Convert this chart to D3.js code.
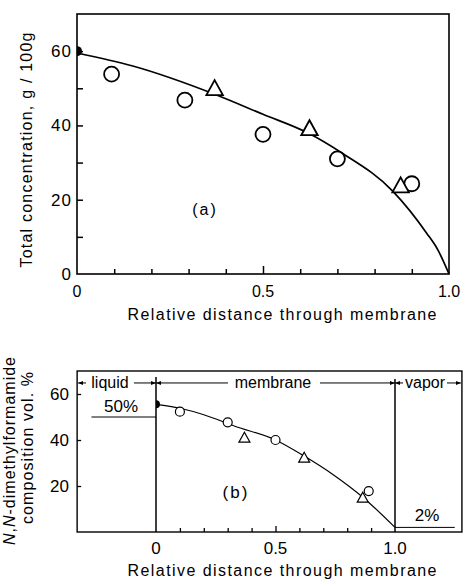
<!DOCTYPE html>
<html>
<head>
<meta charset="utf-8">
<script src="https://cdn.jsdelivr.net/npm/d3@7"></script>
<style>
  body { margin: 0; background: #fff; }
  svg text { font-family: "Liberation Sans", Arial, sans-serif; fill: #000; }
</style>
</head>
<body>
<script>
// ---- data ----
// (a) total concentration
const aCircleX = [0.093, 0.29, 0.50, 0.70, 0.90];
const aCircleY = [53.8, 46.8, 37.6, 31.0, 24.3];
const aTriX = [0.37, 0.625, 0.87];
const aTriY = [49.7, 38.9, 23.5];
const aCurveX = [0, 0.15, 0.37, 0.5, 0.62, 0.71, 0.85, 0.94, 0.97, 1.0];
const aCurveY = [59.5, 56, 48.4, 43, 38, 32.7, 22.2, 11, 6.5, 0];
const aStart = [0, 60];

// (b) N,N-dimethylformamide composition
const bCircleX = [0.10, 0.30, 0.50, 0.89];
const bCircleY = [52.3, 47.7, 40.0, 17.8];
const bTriX = [0.37, 0.62, 0.865];
const bTriY = [40.7, 32.0, 14.6];
const bCurveX = [0, 0.1, 0.2, 0.33, 0.5, 0.62, 0.74, 0.87, 1.0];
const bCurveY = [55.5, 53.8, 51, 46, 40, 33, 25, 14.7, 2];
const bStart = [0, 55.5];

const xTickLabels = ["0", "0.5", "1.0"];
const xTickLabelVals = [0, 0.5, 1.0];
const aYLabels = [0, 20, 40, 60];
const bYLabels = [20, 40, 60];

const w = 466, h = 579;

const svg = d3.select("body").append("svg")
  .attr("width", w).attr("height", h);

const defs = svg.append("defs");
defs.append("marker")
  .attr("id", "arr")
  .attr("viewBox", "0 0 10 10")
  .attr("refX", 10).attr("refY", 5)
  .attr("markerWidth", 5).attr("markerHeight", 5)
  .attr("markerUnits", "userSpaceOnUse")
  .attr("orient", "auto-start-reverse")
  .append("path").attr("d", "M0,1 L10,5 L0,9 Z").attr("fill", "#000");

const zip = (xs, ys) => xs.map((x, i) => [x, ys[i]]);
const tri = s => `M0,${-s * 0.62}L${s * 0.55},${s * 0.38}L${-s * 0.55},${s * 0.38}Z`;

// ================= panel (a) =================
const xA = d3.scaleLinear().domain([0, 1]).range([77, 449]);
const yA = d3.scaleLinear().domain([0, 70]).range([274, 14]);

const gA = svg.append("g");

gA.append("rect")
  .attr("x", xA(0)).attr("y", yA(70))
  .attr("width", xA(1) - xA(0)).attr("height", yA(0) - yA(70))
  .attr("fill", "none").attr("stroke", "#000").attr("stroke-width", 1.6);

const xAxisA = d3.axisBottom(xA)
  .tickValues(d3.range(1, 10).map(d => d / 10))
  .tickSize(-5).tickFormat("");
gA.append("g").attr("transform", `translate(0,${yA(0)})`).call(xAxisA)
  .call(g => g.select(".domain").remove())
  .call(g => g.selectAll(".tick line").attr("stroke-width", 1.5)
    .attr("y2", d => Math.abs(d - 0.5) < 1e-6 ? -8 : -5));

const yAxisA = d3.axisLeft(yA)
  .tickValues([10, 20, 30, 40, 50, 60])
  .tickSize(-6).tickFormat("");
gA.append("g").attr("transform", `translate(${xA(0)},0)`).call(yAxisA)
  .call(g => g.select(".domain").remove())
  .call(g => g.selectAll(".tick line").attr("stroke-width", 1.5));

gA.selectAll(".xlab").data(xTickLabelVals).enter().append("text")
  .attr("x", d => xA(d)).attr("y", 297)
  .attr("text-anchor", "middle").attr("font-size", 16)
  .text((d, i) => xTickLabels[i]);

gA.selectAll(".ylab").data(aYLabels).enter().append("text")
  .attr("x", 72).attr("y", d => yA(d) + 6)
  .attr("text-anchor", "end").attr("font-size", 17)
  .attr("letter-spacing", 1)
  .text(d => d);

gA.append("text")
  .attr("x", 282).attr("y", 320)
  .attr("text-anchor", "middle").attr("font-size", 16)
  .attr("textLength", 309).attr("lengthAdjust", "spacing")
  .text("Relative distance through membrane");

gA.append("text")
  .attr("transform", `translate(32,${150}) rotate(-90)`)
  .attr("text-anchor", "middle").attr("font-size", 16)
  .attr("textLength", 235).attr("lengthAdjust", "spacing")
  .text("Total concentration, g / 100g");

gA.append("text")
  .attr("x", 205).attr("y", 215)
  .attr("text-anchor", "middle").attr("font-size", 16)
  .attr("letter-spacing", 2)
  .text("(a)");

const line = (xs, ys) => d3.line()
  .x(d => xs(d[0])).y(d => ys(d[1]))
  .curve(d3.curveMonotoneX);

gA.append("path")
  .datum(zip(aCurveX, aCurveY))
  .attr("d", line(xA, yA))
  .attr("fill", "none").attr("stroke", "#000").attr("stroke-width", 1.7);

gA.selectAll(".circ").data(zip(aCircleX, aCircleY)).enter().append("circle")
  .attr("cx", d => xA(d[0])).attr("cy", d => yA(d[1])).attr("r", 7.5)
  .attr("fill", "#fff").attr("stroke", "#000").attr("stroke-width", 1.8);

gA.selectAll(".tri").data(zip(aTriX, aTriY)).enter().append("path")
  .attr("transform", d => `translate(${xA(d[0])},${yA(d[1])})`)
  .attr("d", tri(15))
  .attr("fill", "#fff").attr("stroke", "#000").attr("stroke-width", 1.8);

gA.append("path")
  .attr("transform", `translate(${xA(aStart[0])},${yA(aStart[1])})`)
  .attr("d", d3.arc()({ innerRadius: 0, outerRadius: 5, startAngle: 0, endAngle: Math.PI }))
  .attr("fill", "#000");

// ================= panel (b) =================
const xB = d3.scaleLinear().domain([0, 1]).range([156, 395]);
const yB = d3.scaleLinear().domain([0, 70]).range([532, 371]);

const gB = svg.append("g");

gB.append("rect")
  .attr("x", xB(-0.33)).attr("y", yB(70))
  .attr("width", xB(1.28) - xB(-0.33)).attr("height", yB(0) - yB(70))
  .attr("fill", "none").attr("stroke", "#000").attr("stroke-width", 1.4);

const xAxisB = d3.axisBottom(xB)
  .tickValues(d3.range(1, 10).map(d => d / 10))
  .tickSize(-4).tickFormat("");
gB.append("g").attr("transform", `translate(0,${yB(0)})`).call(xAxisB)
  .call(g => g.select(".domain").remove())
  .call(g => g.selectAll(".tick line").attr("stroke-width", 1.3)
    .attr("y2", d => Math.abs(d - 0.5) < 1e-6 ? -6 : -4));

const yAxisB = d3.axisLeft(yB)
  .tickValues([20, 40, 60])
  .tickSize(-4).tickFormat("");
gB.append("g").attr("transform", `translate(${xB(-0.33)},0)`).call(yAxisB)
  .call(g => g.select(".domain").remove())
  .call(g => g.selectAll(".tick line").attr("stroke-width", 1.3));

gB.selectAll(".xlab").data(xTickLabelVals).enter().append("text")
  .attr("x", d => xB(d)).attr("y", 554)
  .attr("text-anchor", "middle").attr("font-size", 17)
  .text((d, i) => xTickLabels[i]);

gB.selectAll(".ylab").data(bYLabels).enter().append("text")
  .attr("x", 69).attr("y", d => yB(d) + 6)
  .attr("text-anchor", "end").attr("font-size", 17)
  .text(d => d);

gB.append("text")
  .attr("x", 282).attr("y", 576)
  .attr("text-anchor", "middle").attr("font-size", 16)
  .attr("textLength", 309).attr("lengthAdjust", "spacing")
  .text("Relative distance through membrane");

const yl = gB.append("text")
  .attr("transform", `translate(15,${451}) rotate(-90)`)
  .attr("text-anchor", "middle").attr("font-size", 16)
  .attr("textLength", 188).attr("lengthAdjust", "spacing");
yl.append("tspan").attr("font-style", "italic").text("N");
yl.append("tspan").text(",");
yl.append("tspan").attr("font-style", "italic").text("N");
yl.append("tspan").text("-dimethylformamide");

gB.append("text")
  .attr("transform", `translate(33,${448}) rotate(-90)`)
  .attr("text-anchor", "middle").attr("font-size", 16)
  .attr("textLength", 152).attr("lengthAdjust", "spacing")
  .text("composition vol. %");

gB.append("text")
  .attr("x", 236).attr("y", 498)
  .attr("text-anchor", "middle").attr("font-size", 17)
  .attr("letter-spacing", 2)
  .text("(b)");

// region boundaries
gB.append("line")
  .attr("x1", xB(0)).attr("x2", xB(0)).attr("y1", 377).attr("y2", yB(0))
  .attr("stroke", "#000").attr("stroke-width", 1.5);
gB.append("line")
  .attr("x1", xB(1)).attr("x2", xB(1)).attr("y1", 379).attr("y2", yB(0))
  .attr("stroke", "#000").attr("stroke-width", 1.5);

// region arrows
const ay = yB(64.8);
const seg = (x1, x2, start, end) => {
  const l = gB.append("line")
    .attr("x1", x1).attr("x2", x2).attr("y1", ay).attr("y2", ay)
    .attr("stroke", "#000").attr("stroke-width", 1);
  if (start) l.attr("marker-start", "url(#arr)");
  if (end) l.attr("marker-end", "url(#arr)");
};
seg(xB(-0.33) + 1, 86, true, false);
seg(134, xB(0), false, true);
seg(xB(0), 228, true, false);
seg(320, xB(1), false, true);
seg(xB(1), 403, true, false);
seg(447, xB(1.28) - 1, false, true);

const lab = (x, t) => gB.append("text")
  .attr("x", x).attr("y", ay + 5)
  .attr("text-anchor", "middle").attr("font-size", 16).text(t);
lab(110, "liquid");
lab(273, "membrane");
lab(425, "vapor");

// boundary concentrations
gB.append("line")
  .attr("x1", xB(-0.27)).attr("x2", xB(0)).attr("y1", yB(50)).attr("y2", yB(50))
  .attr("stroke", "#000").attr("stroke-width", 1);
gB.append("text")
  .attr("x", 121).attr("y", 412)
  .attr("text-anchor", "middle").attr("font-size", 17).text("50%");
gB.append("line")
  .attr("x1", xB(1)).attr("x2", xB(1.25)).attr("y1", yB(2)).attr("y2", yB(2))
  .attr("stroke", "#000").attr("stroke-width", 1);
gB.append("text")
  .attr("x", 427).attr("y", 521)
  .attr("text-anchor", "middle").attr("font-size", 17).text("2%");

gB.append("path")
  .datum(zip(bCurveX, bCurveY))
  .attr("d", line(xB, yB))
  .attr("fill", "none").attr("stroke", "#000").attr("stroke-width", 1.2);

gB.selectAll(".circ").data(zip(bCircleX, bCircleY)).enter().append("circle")
  .attr("cx", d => xB(d[0])).attr("cy", d => yB(d[1])).attr("r", 4.5)
  .attr("fill", "#fff").attr("stroke", "#000").attr("stroke-width", 1.2);

gB.selectAll(".tri").data(zip(bTriX, bTriY)).enter().append("path")
  .attr("transform", d => `translate(${xB(d[0])},${yB(d[1])})`)
  .attr("d", tri(10))
  .attr("fill", "#fff").attr("stroke", "#000").attr("stroke-width", 1.2);

gB.append("path")
  .attr("transform", `translate(${xB(bStart[0])},${yB(bStart[1])})`)
  .attr("d", d3.arc()({ innerRadius: 0, outerRadius: 4, startAngle: 0, endAngle: Math.PI }))
  .attr("fill", "#000");
</script>
</body>
</html>
